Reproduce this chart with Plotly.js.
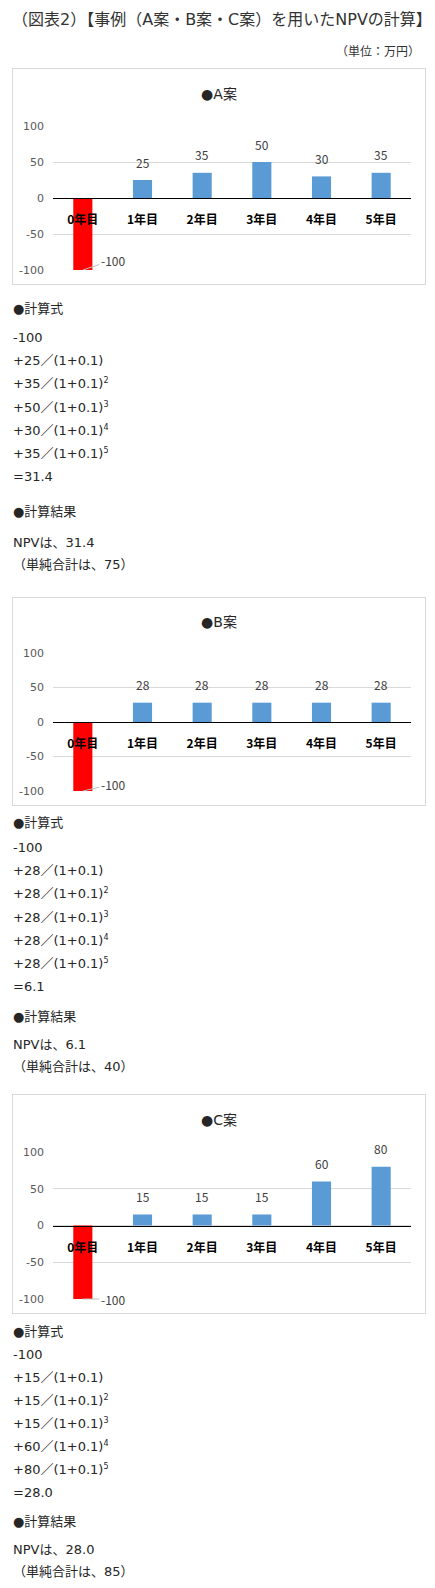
<!DOCTYPE html>
<html>
<head>
<meta charset="utf-8">
<script src="https://cdn.plot.ly/plotly-3.0.1.min.js"></script>
<style>
body { margin: 0; width: 435px; height: 1588px; position: relative; background: #fff;
       font-family: "DejaVu Sans", "Noto Sans CJK JP", sans-serif; color: #262626; }
.box { position: absolute; left: 12px; width: 414px; border: 1px solid #d9d9d9; box-sizing: border-box; }
.line { position: absolute; left: 13px; font-size: 13px; height: 20px; line-height: 20px; white-space: nowrap; }
sup { font-size: 8px; vertical-align: 5px; line-height: 0; }
#mainTitle { position: absolute; left: 12px; top: 8px; font-size: 16px; line-height: 24px; white-space: nowrap; color: #333; }
#unit { position: absolute; right: 15px; top: 43px; font-size: 12px; line-height: 18px; color: #333; }
</style>
</head>
<body>
<div id="mainTitle">（図表2）【事例（A案・B案・C案）を用いたNPVの計算】</div>
<div id="unit">（単位：万円）</div>

<script>
const FONT = '"DejaVu Sans", "Noto Sans CJK JP", sans-serif'
const CJK_FONT = '"Noto Sans CJK JP", sans-serif'

// data
let years = ['0年目', '1年目', '2年目', '3年目', '4年目', '5年目']
let planNames = ['A案', 'B案', 'C案']
let planA = [-100, 25, 35, 50, 30, 35]
let planB = [-100, 28, 28, 28, 28, 28]
let planC = [-100, 15, 15, 15, 60, 80]
let rate = 0.1
let yTicks = [-100, -50, 0, 50, 100]

// box placement on the page (top, height), margins and text rows
let charts = [
    { name: planNames[0], values: planA, top: 68, height: 217, mt: 57, titleY: 25, negAy: -10,
      rows: { head: 309, first: 338, step: 23.2, resHead: 512, npv: 543, sum: 565 } },
    { name: planNames[1], values: planB, top: 597, height: 209, mt: 55, titleY: 24, negAy: -7,
      rows: { head: 823, first: 848, step: 23.2, resHead: 1017, npv: 1045, sum: 1067 } },
    { name: planNames[2], values: planC, top: 1094, height: 220, mt: 57, titleY: 25, negAy: 0,
      rows: { head: 1332, first: 1355, step: 23, resHead: 1522, npv: 1550, sum: 1572 } },
]

function addLine(html, centerY) {
    let d = document.createElement('div')
    d.className = 'line'
    d.style.top = (centerY - 10) + 'px'
    d.innerHTML = html
    document.body.appendChild(d)
}

function drawChart(c, idx) {
    let box = document.createElement('div')
    box.className = 'box'
    box.style.top = c.top + 'px'
    box.style.height = c.height + 'px'
    let plotDiv = document.createElement('div')
    plotDiv.id = 'plot' + idx
    box.appendChild(plotDiv)
    document.body.appendChild(box)

    let w = 412
    let h = c.height - 2
    let ymin = yTicks[0], ymax = yTicks[yTicks.length - 1]

    let trace = {
        type: 'bar',
        x: years,
        y: c.values,
        marker: { color: c.values.map(v => v < 0 ? '#ff0000' : '#5b9bd5') },
        hoverinfo: 'none'
    }

    let annotations = c.values.map((v, i) => {
        if (v >= 0) {
            return { x: years[i], y: v, text: String(v), showarrow: false, yanchor: 'middle', yshift: 18,
                     font: { size: 12, color: '#404040', family: CJK_FONT } }
        }
        return { x: years[i], y: v, text: String(v), showarrow: true, arrowhead: 0, arrowwidth: 1,
                 arrowcolor: '#bfbfbf', ax: 30, ay: c.negAy, standoff: 0,
                 font: { size: 12, color: '#404040', family: CJK_FONT } }
    })

    let layout = {
        width: w,
        height: h,
        margin: { l: 40, r: 14, t: c.mt, b: 14 },
        paper_bgcolor: '#fff',
        plot_bgcolor: '#fff',
        font: { family: FONT, color: '#595959' },
        showlegend: false,
        bargap: 0.68,
        title: {
            text: '●' + c.name,
            font: { size: 14, color: '#262626', family: FONT },
            x: 0.5, xanchor: 'center', xref: 'container',
            y: 1 - c.titleY / h, yanchor: 'middle', yref: 'container'
        },
        xaxis: {
            type: 'category',
            anchor: 'free',
            position: (0 - ymin) / (ymax - ymin),
            showline: true, linecolor: '#000', linewidth: 1,
            showgrid: false, zeroline: false, ticks: '',
            ticklabelstandoff: 11,
            tickfont: { size: 12, color: '#000', weight: 'bold', family: CJK_FONT },
            fixedrange: true
        },
        yaxis: {
            range: [ymin, ymax],
            tickvals: yTicks,
            ticktext: yTicks.map(String),
            showgrid: true, gridcolor: '#d9d9d9', gridwidth: 1,
            zeroline: false, showline: false, ticks: '',
            ticklabelstandoff: 8,
            tickfont: { size: 11, color: '#595959', family: FONT },
            fixedrange: true
        },
        annotations: annotations
    }

    Plotly.newPlot(plotDiv.id, [trace], layout, { displayModeBar: false, staticPlot: true })
}

function drawText(c) {
    let r = c.rows
    let npv = 0
    let total = 0
    addLine('●計算式', r.head)
    c.values.forEach((v, t) => {
        npv += v / Math.pow(1 + rate, t)
        total += v
        let txt
        if (t == 0) txt = String(v)
        else {
            txt = '+' + v + '／(1+' + rate + ')'
            if (t > 1) txt += '<sup>' + t + '</sup>'
        }
        addLine(txt, r.first + r.step * t)
    })
    addLine('=' + npv.toFixed(1), r.first + r.step * c.values.length)
    addLine('●計算結果', r.resHead)
    addLine('NPVは、' + npv.toFixed(1), r.npv)
    addLine('（単純合計は、' + total + '）', r.sum)
}

charts.forEach((c, i) => {
    drawChart(c, i)
    drawText(c)
})
</script>
</body>
</html>
